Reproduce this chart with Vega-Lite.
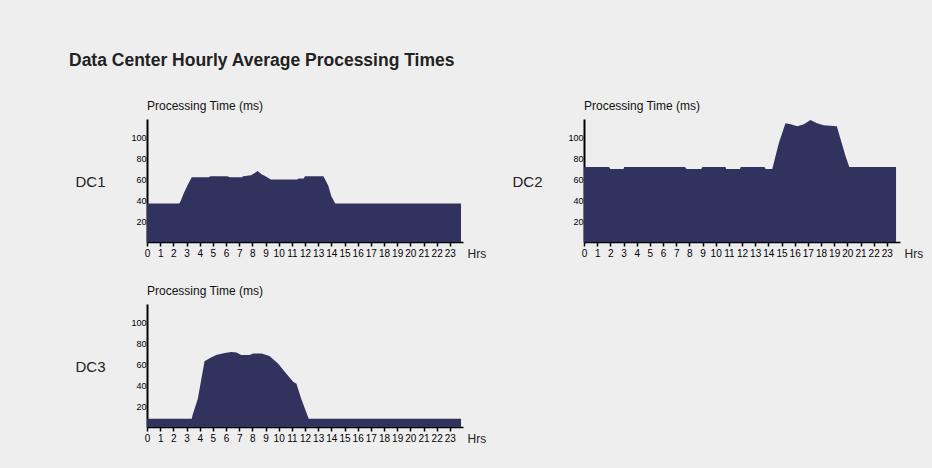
{
  "$schema": "https://vega.github.io/schema/vega-lite/v6.json",
  "background": "#eeeeee",
  "padding": {"left": 68, "top": 51, "right": 15, "bottom": 28},
  "title": {
    "text": "Data Center Hourly Average Processing Times",
    "anchor": "start",
    "dx": -6,
    "font": "Liberation Sans",
    "fontSize": 17.5,
    "fontWeight": "bold",
    "color": "#222222",
    "offset": 31
  },
  "data": {
    "values": [
      {"dc": "DC1", "hour": 0, "value": 37},
      {"dc": "DC1", "hour": 2.45, "value": 37},
      {"dc": "DC1", "hour": 2.55, "value": 39},
      {"dc": "DC1", "hour": 2.8, "value": 47},
      {"dc": "DC1", "hour": 3.1, "value": 55},
      {"dc": "DC1", "hour": 3.4, "value": 62},
      {"dc": "DC1", "hour": 4.7, "value": 62},
      {"dc": "DC1", "hour": 4.8, "value": 63},
      {"dc": "DC1", "hour": 6.1, "value": 63},
      {"dc": "DC1", "hour": 6.3, "value": 62},
      {"dc": "DC1", "hour": 7.2, "value": 62},
      {"dc": "DC1", "hour": 7.3, "value": 63},
      {"dc": "DC1", "hour": 7.9, "value": 64},
      {"dc": "DC1", "hour": 8.4, "value": 68},
      {"dc": "DC1", "hour": 8.7, "value": 65},
      {"dc": "DC1", "hour": 9.0, "value": 63},
      {"dc": "DC1", "hour": 9.4, "value": 60},
      {"dc": "DC1", "hour": 11.4, "value": 60},
      {"dc": "DC1", "hour": 11.5, "value": 61},
      {"dc": "DC1", "hour": 11.9, "value": 61},
      {"dc": "DC1", "hour": 12.0, "value": 63},
      {"dc": "DC1", "hour": 13.4, "value": 63},
      {"dc": "DC1", "hour": 13.77, "value": 54},
      {"dc": "DC1", "hour": 14.0, "value": 44},
      {"dc": "DC1", "hour": 14.3, "value": 37},
      {"dc": "DC1", "hour": 23.85, "value": 37},
      {"dc": "DC2", "hour": 0, "value": 72},
      {"dc": "DC2", "hour": 1.9, "value": 72},
      {"dc": "DC2", "hour": 2.0, "value": 70},
      {"dc": "DC2", "hour": 3.0, "value": 70},
      {"dc": "DC2", "hour": 3.05, "value": 72},
      {"dc": "DC2", "hour": 7.66, "value": 72},
      {"dc": "DC2", "hour": 7.8, "value": 70},
      {"dc": "DC2", "hour": 8.9, "value": 70},
      {"dc": "DC2", "hour": 9.0, "value": 72},
      {"dc": "DC2", "hour": 10.75, "value": 72},
      {"dc": "DC2", "hour": 10.8, "value": 70},
      {"dc": "DC2", "hour": 11.85, "value": 70},
      {"dc": "DC2", "hour": 11.9, "value": 72},
      {"dc": "DC2", "hour": 13.7, "value": 72},
      {"dc": "DC2", "hour": 13.8, "value": 70},
      {"dc": "DC2", "hour": 14.3, "value": 70},
      {"dc": "DC2", "hour": 14.5, "value": 80},
      {"dc": "DC2", "hour": 14.8, "value": 95},
      {"dc": "DC2", "hour": 15.3, "value": 114},
      {"dc": "DC2", "hour": 15.7, "value": 113},
      {"dc": "DC2", "hour": 16.2, "value": 111},
      {"dc": "DC2", "hour": 16.7, "value": 113},
      {"dc": "DC2", "hour": 17.2, "value": 117},
      {"dc": "DC2", "hour": 17.7, "value": 114},
      {"dc": "DC2", "hour": 18.2, "value": 112},
      {"dc": "DC2", "hour": 19.2, "value": 111},
      {"dc": "DC2", "hour": 19.5, "value": 98},
      {"dc": "DC2", "hour": 19.85, "value": 83},
      {"dc": "DC2", "hour": 20.15, "value": 72},
      {"dc": "DC2", "hour": 23.7, "value": 72},
      {"dc": "DC3", "hour": 0, "value": 8},
      {"dc": "DC3", "hour": 3.4, "value": 8},
      {"dc": "DC3", "hour": 3.45, "value": 11},
      {"dc": "DC3", "hour": 3.86, "value": 27},
      {"dc": "DC3", "hour": 4.37, "value": 63},
      {"dc": "DC3", "hour": 4.75, "value": 66},
      {"dc": "DC3", "hour": 5.25, "value": 69},
      {"dc": "DC3", "hour": 5.9, "value": 71},
      {"dc": "DC3", "hour": 6.4, "value": 72},
      {"dc": "DC3", "hour": 6.8, "value": 71.5},
      {"dc": "DC3", "hour": 7.16, "value": 69},
      {"dc": "DC3", "hour": 7.8, "value": 69},
      {"dc": "DC3", "hour": 8.05, "value": 70.5},
      {"dc": "DC3", "hour": 8.7, "value": 70.5},
      {"dc": "DC3", "hour": 9.3, "value": 68},
      {"dc": "DC3", "hour": 9.95, "value": 61},
      {"dc": "DC3", "hour": 10.46, "value": 53},
      {"dc": "DC3", "hour": 11.1, "value": 43.5},
      {"dc": "DC3", "hour": 11.35, "value": 41.5},
      {"dc": "DC3", "hour": 11.7, "value": 27.5},
      {"dc": "DC3", "hour": 12.28, "value": 8},
      {"dc": "DC3", "hour": 23.85, "value": 8}
    ]
  },
  "columns": 2,
  "spacing": {"column": 25, "row": 26},
  "concat": [
    {
      "width": 316, "height": 123,
      "transform": [{"filter": "datum.dc == 'DC1'"}],
      "title": {"text": "Processing Time (ms)", "anchor": "start", "frame": "group"},
      "mark": {"type": "area", "color": "#32325E", "interpolate": "linear"},
      "encoding": {
        "x": {"field": "hour", "type": "quantitative", "scale": {"domain": [0, 24], "nice": false},
              "axis": {"title": "Hrs", "values": [0,1,2,3,4,5,6,7,8,9,10,11,12,13,14,15,16,17,18,19,20,21,22,23], "labelOverlap": false}},
        "y": {"field": "value", "type": "quantitative", "scale": {"domain": [0, 118], "nice": false},
              "axis": {"title": "DC1", "values": [20, 40, 60, 80, 100]}}
      }
    },
    {
      "width": 316, "height": 123,
      "transform": [{"filter": "datum.dc == 'DC2'"}],
      "title": {"text": "Processing Time (ms)", "anchor": "start", "frame": "group"},
      "mark": {"type": "area", "color": "#32325E", "interpolate": "linear"},
      "encoding": {
        "x": {"field": "hour", "type": "quantitative", "scale": {"domain": [0, 24], "nice": false},
              "axis": {"title": "Hrs", "values": [0,1,2,3,4,5,6,7,8,9,10,11,12,13,14,15,16,17,18,19,20,21,22,23], "labelOverlap": false}},
        "y": {"field": "value", "type": "quantitative", "scale": {"domain": [0, 118], "nice": false},
              "axis": {"title": "DC2", "values": [20, 40, 60, 80, 100]}}
      }
    },
    {
      "width": 316, "height": 123,
      "transform": [{"filter": "datum.dc == 'DC3'"}],
      "title": {"text": "Processing Time (ms)", "anchor": "start", "frame": "group"},
      "mark": {"type": "area", "color": "#32325E", "interpolate": "linear"},
      "encoding": {
        "x": {"field": "hour", "type": "quantitative", "scale": {"domain": [0, 24], "nice": false},
              "axis": {"title": "Hrs", "values": [0,1,2,3,4,5,6,7,8,9,10,11,12,13,14,15,16,17,18,19,20,21,22,23], "labelOverlap": false}},
        "y": {"field": "value", "type": "quantitative", "scale": {"domain": [0, 118], "nice": false},
              "axis": {"title": "DC3", "values": [20, 40, 60, 80, 100]}}
      }
    }
  ],
  "config": {
    "view": {"stroke": null},
    "title": {"font": "Liberation Sans", "fontSize": 12, "fontWeight": "normal", "color": "#111111", "offset": 6},
    "axis": {
      "grid": false,
      "domainColor": "#000000",
      "labelColor": "#000000",
      "labelFont": "Liberation Sans",
      "titleFont": "Liberation Sans"
    },
    "axisX": {
      "domainWidth": 1.5,
      "tickColor": "#000000",
      "tickWidth": 1.5,
      "tickSize": 4,
      "labelFontSize": 10,
      "labelPadding": 2,
      "labelFlush": false,
      "titleFontSize": 12,
      "titleFontWeight": "normal",
      "titleColor": "#222222",
      "titleAlign": "left",
      "titleBaseline": "middle",
      "titleX": 320,
      "titleY": 11
    },
    "axisY": {
      "domainWidth": 2,
      "ticks": false,
      "labelPadding": 1,
      "labelFontSize": 9,
      "titleFontSize": 15,
      "titleFontWeight": "normal",
      "titleColor": "#222222",
      "titleAngle": 0,
      "titleAlign": "right",
      "titleBaseline": "middle",
      "titleX": -42,
      "titleY": 62
    }
  }
}
